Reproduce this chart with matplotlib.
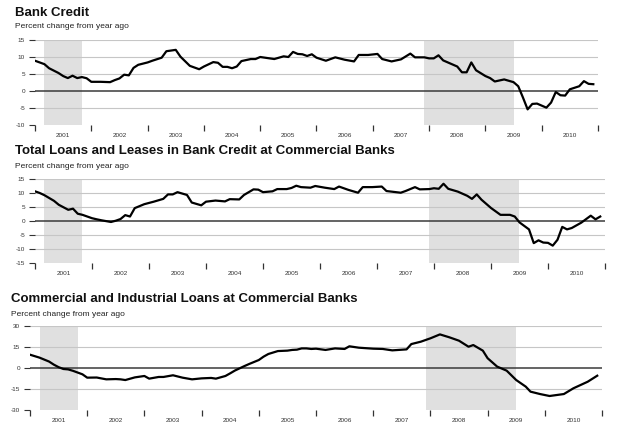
import matplotlib
matplotlib.use("Agg")
from matplotlib import pyplot as plt

plt.rcParams["font.family"] = ["Liberation Sans", "DejaVu Sans"]
plt.rcParams["axes.unicode_minus"] = False

W, H = 624, 428

# x values are months counted from Jan 2001
bc_month = [0, 2, 3, 5, 6, 7, 8, 9, 10, 11, 12, 14, 16, 17, 18, 19, 20, 21, 22, 24,
            25, 27, 28, 30, 31, 33, 35, 36, 38, 39, 40, 41, 42, 43, 44, 46, 47, 48, 50, 51,
            53, 54, 55, 56, 57, 58, 59, 60, 62, 64, 66, 68, 69, 71, 73, 74, 76, 78, 80, 81,
            83, 84, 85, 86, 87, 88, 90, 91, 92, 93, 94, 96, 97, 98, 100, 102, 103, 104, 105, 106,
            107, 109, 110, 111, 112, 113, 114, 116, 117, 118, 119]
bc_value = [8.9, 7.9, 6.7, 5.3, 4.4, 3.8, 4.5, 3.8, 4.1, 3.75, 2.7, 2.7, 2.6, 3.2, 3.7, 4.8, 4.6, 6.8, 7.7, 8.4,
            8.9, 9.8, 11.7, 12.1, 10.1, 7.4, 6.4, 7.2, 8.5, 8.3, 7.1, 7.1, 6.7, 7.2, 8.8, 9.4, 9.4, 10.0, 9.6, 9.4,
            10.2, 10.0, 11.5, 10.9, 10.8, 10.3, 10.8, 9.8, 8.9, 9.9, 9.2, 8.7, 10.6, 10.6, 10.9, 9.4, 8.7, 9.3, 11.0, 9.9,
            9.9, 9.6, 9.6, 10.5, 9.0, 8.4, 7.2, 5.5, 5.5, 8.4, 6.1, 4.4, 3.8, 2.8, 3.4, 2.6, 1.4, -1.9, -5.4, -3.8,
            -3.7, -4.9, -3.4, -0.3, -1.25, -1.35, 0.5, 1.4, 2.9, 2.1, 2.0]

tl_month = [0, 1, 2, 4, 5, 7, 8, 9, 10, 12, 13, 14, 16, 17, 18, 19, 20, 21, 23, 25,
            27, 28, 29, 30, 32, 33, 35, 36, 38, 40, 41, 43, 44, 46, 47, 48, 50, 51, 53, 54,
            55, 56, 58, 59, 61, 63, 64, 66, 68, 69, 71, 73, 74, 77, 78, 80, 81, 83, 84, 85,
            86, 87, 89, 91, 92, 93, 94, 96, 98, 100, 101, 102, 104, 105, 106, 107, 108, 109, 110, 111,
            112, 113, 115, 117, 118, 119]
tl_value = [10.6, 10.0, 9.2, 7.2, 5.8, 4.0, 4.4, 2.6, 2.2, 1.0, 0.6, 0.25, -0.35, 0.1, 0.7, 2.1, 1.6, 4.6, 6.0, 6.9,
            7.9, 9.5, 9.5, 10.3, 9.3, 6.6, 5.6, 6.9, 7.3, 7.0, 7.8, 7.7, 9.3, 11.3, 11.2, 10.3, 10.6, 11.4, 11.4, 11.8,
            12.6, 12.1, 11.9, 12.5, 11.9, 11.4, 12.3, 11.1, 10.1, 12.1, 12.1, 12.3, 10.7, 10.1, 10.7, 12.1, 11.3, 11.4, 11.7, 11.5,
            13.3, 11.5, 10.5, 9.0, 7.9, 9.5, 7.6, 4.65, 2.2, 2.2, 1.6, -0.5, -3.0, -7.9, -6.9, -7.7, -7.8, -8.8, -6.7, -2.1,
            -3.0, -2.5, -0.6, 1.9, 0.6, 1.6]

ci_month = [0, 2, 4, 5, 6, 7, 8, 9, 11, 12, 14, 16, 18, 19, 20, 22, 24, 25, 27, 28,
            30, 32, 34, 36, 38, 39, 41, 42, 43, 45, 46, 48, 49, 50, 52, 54, 55, 56, 57, 58,
            59, 60, 62, 64, 66, 67, 69, 72, 74, 76, 79, 80, 82, 84, 86, 88, 90, 92, 93, 95,
            96, 98, 100, 102, 104, 105, 107, 109, 112, 114, 117, 119]
ci_value = [9.5, 7.4, 4.6, 2.4, 0.6, -0.7, -1.0, -2.0, -4.5, -6.9, -6.8, -8.1, -7.9, -8.1, -8.6, -6.7, -5.7, -7.6, -6.4, -6.4,
            -5.2, -6.9, -8.1, -7.4, -7.1, -7.6, -5.7, -3.8, -1.8, 1.4, 2.9, 5.7, 8.1, 10.0, 12.1, 12.4, 12.9, 13.1, 14.0, 14.0,
            13.6, 13.8, 12.9, 14.0, 13.6, 15.5, 14.5, 13.8, 13.6, 12.6, 13.3, 17.1, 18.8, 21.2, 24.0, 21.9, 19.5, 15.2, 16.4, 12.4,
            7.0, 1.0, -1.9, -8.6, -13.3, -16.9, -18.6, -20.0, -18.6, -14.5, -9.8, -5.5]

# recessions, months from Jan 2001
recessions = [(2, 10), (83, 102)]
years = list(range(2001, 2011))


def to_year(months):
    return [2001 + m / 12 for m in months]


def rect(l, r, t, b):
    return [l / W, 1 - b / H, (r - l) / W, (b - t) / H]


def draw_panel(fig, box, months, values, yticks, title, tx, ty):
    ax = fig.add_axes(rect(*box))
    ax.set_xlim(2001, 2011)
    ax.set_ylim(yticks[-1], yticks[0])
    for s in ax.spines.values():
        s.set_visible(False)
    for a, b in recessions:
        ax.axvspan(2001 + a / 12, 2001 + b / 12, color="#e0e0e0", lw=0, zorder=0)
    for y in yticks[:-1]:
        if y != 0:
            ax.axhline(y, color="#c6c6c6", lw=0.8, zorder=1)
    ax.axhline(0, color="#3a3a3a", lw=1.1, zorder=2)
    ax.plot(to_year(months), values, color="black", lw=1.6, zorder=3)

    ax.set_yticks(yticks)
    ax.set_yticklabels([str(v) for v in yticks])
    ax.set_xticks(range(2001, 2012))
    ax.set_xticklabels([])
    ax.set_xticks([y + 0.5 for y in years], minor=True)
    ax.set_xticklabels([str(y) for y in years], minor=True)
    ax.tick_params(axis="y", length=4.3, width=0.8, pad=2.8, labelsize=4.6,
                   colors="#333333")
    ax.tick_params(axis="x", which="major", length=4.5, width=0.9, colors="#333333")
    ax.tick_params(axis="x", which="minor", length=0, pad=6, labelsize=4.6,
                   labelcolor="#333333")

    fig.text(tx / W, 1 - ty / H, title, fontsize=9.5, fontweight="bold",
             color="#111111", va="top", ha="left")
    fig.text(tx / W, 1 - (ty + 17) / H, "Percent change from year ago",
             fontsize=6, color="#222222", va="top", ha="left")
    return ax


fig = plt.figure(figsize=(W / 100, H / 100), dpi=100)

draw_panel(fig, (35, 598, 40, 125), bc_month, bc_value,
           [15, 10, 5, 0, -5, -10], "Bank Credit", 15, 6.5)
draw_panel(fig, (35, 605, 179, 263), tl_month, tl_value,
           [15, 10, 5, 0, -5, -10, -15],
           "Total Loans and Leases in Bank Credit at Commercial Banks", 15, 145.5)
draw_panel(fig, (30, 602, 326, 410), ci_month, ci_value,
           [30, 15, 0, -15, -30],
           "Commercial and Industrial Loans at Commercial Banks", 11, 293.5)

fig.savefig("out.png", dpi=100)
